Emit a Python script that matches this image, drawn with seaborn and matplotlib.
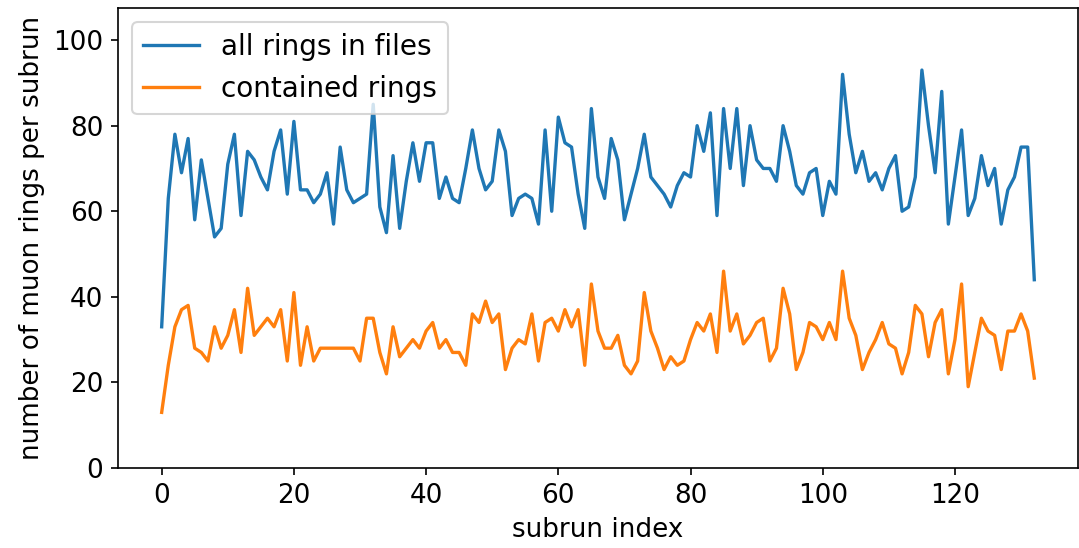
import numpy as np
import matplotlib
matplotlib.use("Agg")
import matplotlib.pyplot as plt
import seaborn as sns

# muon rings per subrun
all_rings = [33, 63, 78, 69, 77, 58, 72, 63, 54, 56, 71, 78, 59, 74, 72, 68, 65, 74, 79, 64,
             81, 65, 65, 62, 64, 69, 57, 75, 65, 62, 63, 64, 85, 61, 55, 73, 56, 67, 76, 67,
             76, 76, 63, 68, 63, 62, 70, 79, 70, 65, 67, 79, 74, 59, 63, 64, 63, 57, 79, 60,
             82, 76, 75, 64, 56, 84, 68, 63, 77, 72, 58, 64, 70, 78, 68, 66, 64, 61, 66, 69,
             68, 80, 74, 83, 59, 84, 70, 84, 66, 80, 72, 70, 70, 67, 80, 74, 66, 64, 69, 70,
             59, 67, 64, 92, 78, 69, 74, 67, 69, 65, 70, 73, 60, 61, 68, 93, 80, 69, 88, 57,
             68, 79, 59, 63, 73, 66, 70, 57, 65, 68, 75, 75, 44]
contained = [13, 24, 33, 37, 38, 28, 27, 25, 33, 28, 31, 37, 27, 42, 31, 33, 35, 33, 37, 25,
             41, 24, 33, 25, 28, 28, 28, 28, 28, 28, 25, 35, 35, 27, 22, 33, 26, 28, 30, 28,
             32, 34, 28, 30, 27, 27, 24, 36, 34, 39, 34, 36, 23, 28, 30, 29, 36, 25, 34, 35,
             32, 37, 33, 37, 24, 43, 32, 28, 28, 31, 24, 22, 25, 41, 32, 28, 23, 26, 24, 25,
             30, 34, 32, 36, 27, 46, 32, 36, 29, 31, 34, 35, 25, 28, 42, 36, 23, 27, 34, 33,
             30, 34, 30, 46, 35, 31, 23, 27, 30, 34, 29, 28, 22, 27, 38, 36, 26, 34, 37, 22,
             30, 43, 19, 27, 35, 32, 31, 23, 32, 32, 36, 32, 21]
subrun = np.arange(len(all_rings))

plt.rcParams["font.size"] = 12.6
plt.rcParams["lines.linewidth"] = 1.6

fig = plt.figure(figsize=(1079 / 150, 548 / 150), dpi=150)
ax = fig.add_axes([0.1094, 0.146, 0.8896, 0.8394])

sns.lineplot(x=subrun, y=all_rings, ax=ax, label="all rings in files", color="tab:blue")
sns.lineplot(x=subrun, y=contained, ax=ax, label="contained rings", color="tab:orange")

ax.set_ylim(0, 107.5)
ax.set_xlabel("subrun index")
ax.set_ylabel("number of muon rings per subrun")
ax.legend(loc="upper left", fontsize=13.4)

fig.savefig("out.png", dpi=150)
